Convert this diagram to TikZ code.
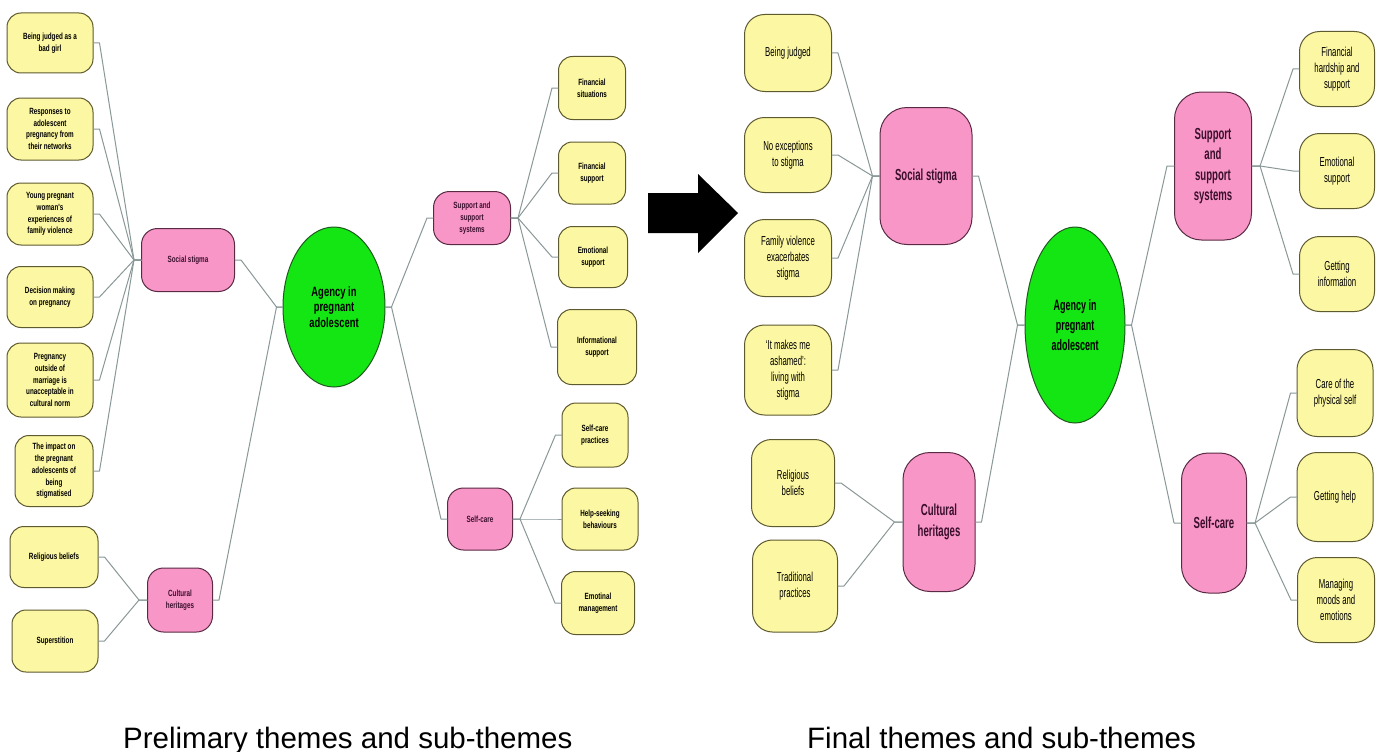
\documentclass[tikz,border=0pt]{standalone}
\usepackage{fontspec}
\setmainfont{Liberation Sans}
\newfontfamily\smallcond[FakeStretch=0.7]{Liberation Sans}
\newfontfamily\bigcond[FakeStretch=0.6]{Liberation Sans}
\usetikzlibrary{shapes.geometric}
\definecolor{subyellow}{HTML}{FCF7A2}
\definecolor{subedge}{HTML}{5E5A30}
\definecolor{themepink}{HTML}{F896C8}
\definecolor{themeedge}{HTML}{5A2A44}
\definecolor{themetext}{HTML}{3A0E2C}
\definecolor{coregreen}{HTML}{14E614}
\definecolor{coreedge}{HTML}{1E5A1E}
\definecolor{linkgrey}{HTML}{8A9898}

\begin{document}
\begin{tikzpicture}[x=1pt,y=-1pt,line join=round,line cap=round,
	link/.style={draw=linkgrey,line width=1pt},
	sz/.style 2 args={minimum width=#1,minimum height=#2},
	sub/.style={draw=subedge,fill=subyellow,line width=1pt,align=center,inner sep=1pt},
	theme/.style={draw=themeedge,fill=themepink,line width=1pt,align=center,inner sep=1pt,text=themetext},
	core/.style={ellipse,draw=coreedge,fill=coregreen,line width=1pt,align=center,inner sep=0pt},
	old/.style={rounded corners=14pt,font=\smallcond\bfseries\fontsize{9}{11.7}\selectfont},
	new/.style={rounded corners=20pt,font=\bigcond\fontsize{13}{15.8}\selectfont},
	newtheme/.style={rounded corners=27pt,font=\bigcond\bfseries\fontsize{16}{20.5}\selectfont},
	caption/.style={anchor=base west,inner sep=0pt,font=\fontsize{29.5}{32}\selectfont}]
	\fill[white] (0,0) rectangle (1381,752);
	\useasboundingbox (0,0) rectangle (1381,752);

	% preliminary themes
	\node[sub,old,sz={86}{60}] (pjudged) at (50,43) {Being judged as a\\bad girl};
	\node[sub,old,sz={86}{62}] (presponse) at (50,129) {Responses to\\adolescent\\pregnancy from\\their networks};
	\node[sub,old,sz={86}{62}] (pviolence) at (50,214) {Young pregnant\\woman's\\experiences of\\family violence};
	\node[sub,old,sz={86}{61}] (pdecision) at (50,297) {Decision making\\on pregnancy};
	\node[sub,old,sz={86}{74}] (pmarriage) at (50,380) {Pregnancy\\outside of\\marriage is\\unacceptable in\\cultural norm};
	\node[sub,old,sz={78}{71}] (pimpact) at (54,471) {The impact on\\the pregnant\\adolescents of\\being\\stigmatised};
	\node[sub,old,sz={88}{61}] (preligion) at (54,557) {Religious beliefs};
	\node[sub,old,sz={86}{62}] (psuperst) at (55,641) {Superstition};

	\node[theme,old,rounded corners=16pt,sz={93}{63}] (pstigma) at (188,260) {Social stigma};
	\node[theme,old,rounded corners=16pt,sz={65}{64}] (pculture) at (180,600) {Cultural\\heritages};
	\node[core,sz={102}{160},font=\smallcond\bfseries\fontsize{13.5}{15.5}\selectfont] (pagency) at (334,307) {Agency in\\pregnant\\adolescent};
	\node[theme,old,rounded corners=16pt,sz={77}{53}] (psupport) at (472,218) {Support and\\support\\systems};
	\node[theme,old,rounded corners=16pt,sz={65}{62}] (pselfcare) at (480,519) {Self-care};

	\node[sub,old,sz={67}{63}] (pfinsit) at (592,88) {Financial\\situations};
	\node[sub,old,sz={67}{62}] (pfinsup) at (592,173) {Financial\\support};
	\node[sub,old,sz={69}{61}] (pemosup) at (593,257) {Emotional\\support};
	\node[sub,old,sz={79}{75}] (pinfosup) at (597,347) {Informational\\support};
	\node[sub,old,sz={66}{64}] (pcare) at (595,435) {Self-care\\practices};
	\node[sub,old,sz={76}{62}] (phelp) at (600,519) {Help-seeking\\behaviours};
	\node[sub,old,sz={73}{63}] (pemoman) at (598,603) {Emotinal\\management};

	\foreach \n in {pjudged,presponse,pviolence,pdecision,pmarriage,pimpact}
		\draw[link] (\n.east) -- ++(6,0) -- ([xshift=-7pt]pstigma.west) -- (pstigma.west);
	\foreach \n in {preligion,psuperst}
		\draw[link] (\n.east) -- ++(6,0) -- ([xshift=-8pt]pculture.west) -- (pculture.west);
	\foreach \n in {pstigma,pculture}
		\draw[link] (\n.east) -- ++(6,0) -- ([xshift=-6pt]pagency.west) -- (pagency.west);
	\foreach \n in {psupport,pselfcare}
		\draw[link] (pagency.east) -- ++(6,0) -- ([xshift=-6pt]\n.west) -- (\n.west);
	\foreach \n in {pfinsit,pfinsup,pemosup,pinfosup}
		\draw[link] (psupport.east) -- ++(7,0) -- ([xshift=-6pt]\n.west) -- (\n.west);
	\foreach \n in {pcare,phelp,pemoman}
		\draw[link] (pselfcare.east) -- ++(7,0) -- ([xshift=-6pt]\n.west) -- (\n.west);

	% block arrow
	\fill[black] (648,193) -- (698,193) -- (698,174) -- (738,213) -- (698,253) -- (698,233) -- (648,233) -- cycle;

	% final themes
	\node[sub,new,sz={87}{77}] (fjudged) at (788,53) {Being judged};
	\node[sub,new,sz={87}{75}] (fexcept) at (788,155) {No exceptions\\to stigma};
	\node[sub,new,sz={87}{77}] (fviolence) at (788,258) {Family violence\\exacerbates\\stigma};
	\node[sub,new,sz={87}{90}] (fashamed) at (788,370) {‘It makes me\\ashamed’:\\living with\\stigma};
	\node[sub,new,sz={83}{87}] (freligion) at (793,483) {Religious\\beliefs};
	\node[sub,new,sz={85}{92}] (ftradition) at (795,586) {Traditional\\practices};

	\node[theme,newtheme,sz={92}{137}] (fstigma) at (926,176) {Social stigma};
	\node[theme,newtheme,sz={72}{139}] (fculture) at (939,522) {Cultural\\heritages};
	\node[core,sz={100}{196},font=\bigcond\bfseries\fontsize{15}{20}\selectfont] (fagency) at (1075,325) {Agency in\\pregnant\\adolescent};
	\node[theme,newtheme,sz={77}{148}] (fsupport) at (1213,166) {Support\\and\\support\\systems};
	\node[theme,newtheme,sz={65}{140}] (fselfcare) at (1214,523) {Self-care};

	\node[sub,new,sz={75}{75}] (fhardship) at (1337,69) {Financial\\hardship and\\support};
	\node[sub,new,sz={75}{75}] (femotion) at (1337,171) {Emotional\\support};
	\node[sub,new,sz={75}{75}] (finfo) at (1337,274) {Getting\\information};
	\node[sub,new,sz={76}{87}] (fphysical) at (1335,393) {Care of the\\physical self};
	\node[sub,new,sz={76}{89}] (fhelp) at (1335,497) {Getting help};
	\node[sub,new,sz={77}{85}] (fmoods) at (1336,600) {Managing\\moods and\\emotions};

	\foreach \n in {fjudged,fexcept,fviolence,fashamed}
		\draw[link] (\n.east) -- ++(6,0) -- ([xshift=-7pt]fstigma.west) -- (fstigma.west);
	\foreach \n in {freligion,ftradition}
		\draw[link] (\n.east) -- ++(6,0) -- ([xshift=-8pt]fculture.west) -- (fculture.west);
	\foreach \n in {fstigma,fculture}
		\draw[link] (\n.east) -- ++(6,0) -- ([xshift=-7pt]fagency.west) -- (fagency.west);
	\foreach \n in {fsupport,fselfcare}
		\draw[link] (fagency.east) -- ++(6,0) -- ([xshift=-7pt]\n.west) -- (\n.west);
	\foreach \n in {fhardship,femotion,finfo}
		\draw[link] (fsupport.east) -- ++(8,0) -- ([xshift=-6pt]\n.west) -- (\n.west);
	\foreach \n in {fphysical,fhelp,fmoods}
		\draw[link] (fselfcare.east) -- ++(8,0) -- ([xshift=-6pt]\n.west) -- (\n.west);

	% captions
	\node[caption] (pcaption) at (123,748) {Prelimary themes and sub-themes};
	\node[caption] (fcaption) at (807,748) {Final themes and sub-themes};
\end{tikzpicture}
\end{document}
